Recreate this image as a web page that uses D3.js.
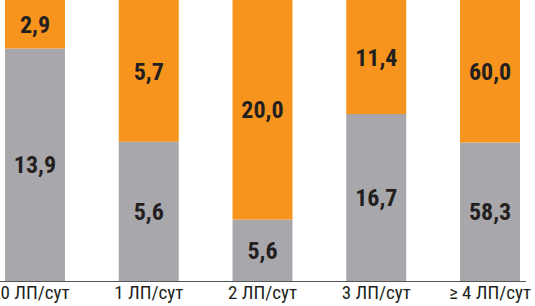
<!DOCTYPE html>
<html>
<head>
<meta charset="utf-8">
<script src="https://cdn.jsdelivr.net/npm/d3@7"></script>
<style>
  html, body { margin: 0; padding: 0; background: #fff; }
  svg { display: block; }
  .lbl { font-family: "Liberation Sans Narrow", "Roboto Condensed", "DejaVu Sans Condensed", sans-serif; font-stretch: condensed; }
</style>
</head>
<body>
<main></main>
<script>
const categories = ["0 ЛП/сут", "1 ЛП/сут", "2 ЛП/сут", "3 ЛП/сут", "≥ 4 ЛП/сут"]
const grayValues = [13.9, 5.6, 5.6, 16.7, 58.3]
const orangeValues = [2.9, 5.7, 20.0, 11.4, 60.0]

const w = 535
const h = 306
const baseY = 281

const fmt = (v) => v.toFixed(1).replace(".", ",")

const dataset = categories.map((c, i) => {
  const total = grayValues[i] + orangeValues[i]
  return { cat: c, gray: grayValues[i], orange: orangeValues[i], total: total }
})

const svg = d3.select("main").append("svg").attr("width", w).attr("height", h)

const xScale = d3.scaleBand().domain(categories).range([5, 520]).paddingInner(0.473).paddingOuter(0)
// each bar is shown as share of its own total
const yScale = d3.scaleLinear().domain([0, 1]).range([baseY, 0])

const bars = svg.selectAll(".bar").data(dataset).enter().append("g").attr("class", "bar")

bars.append("rect")
  .attr("x", (d) => xScale(d.cat))
  .attr("width", xScale.bandwidth())
  .attr("y", (d) => yScale(d.gray / d.total))
  .attr("height", (d) => baseY - yScale(d.gray / d.total))
  .attr("fill", "#a8a7ab")

bars.append("rect")
  .attr("x", (d) => xScale(d.cat))
  .attr("width", xScale.bandwidth())
  .attr("y", (d) => yScale(1))
  .attr("height", (d) => yScale(d.gray / d.total) - yScale(1))
  .attr("fill", "#f7941d")

bars.append("text")
  .attr("class", "lbl")
  .attr("x", (d) => xScale(d.cat) + xScale.bandwidth() / 2)
  .attr("y", (d) => yScale(d.gray / d.total / 2))
  .attr("dy", "0.36em")
  .attr("text-anchor", "middle")
  .attr("font-size", 24)
  .attr("font-weight", "bold")
  .attr("fill", "#231f20")
  .text((d) => fmt(d.gray))

bars.append("text")
  .attr("class", "lbl")
  .attr("x", (d) => xScale(d.cat) + xScale.bandwidth() / 2)
  .attr("y", (d) => yScale((d.gray / d.total + 1) / 2))
  .attr("dy", "0.36em")
  .attr("text-anchor", "middle")
  .attr("font-size", 24)
  .attr("font-weight", "bold")
  .attr("fill", "#231f20")
  .text((d) => fmt(d.orange))

// baseline
svg.append("line")
  .attr("x1", 0).attr("x2", 526)
  .attr("y1", baseY + 0.5).attr("y2", baseY + 0.5)
  .attr("stroke", "#555")
  .attr("stroke-width", 1)

const xAxis = d3.axisBottom(xScale).tickSize(0).tickPadding(0)
const gx = svg.append("g")
  .attr("id", "x-axis")
  .attr("transform", `translate(0, ${baseY + 4})`)
  .call(xAxis)
gx.select(".domain").remove()
gx.selectAll("text")
  .attr("class", "lbl")
  .attr("font-size", 19)
  .attr("fill", "#231f20")
  .attr("dy", "0.75em")
</script>
</body>
</html>
